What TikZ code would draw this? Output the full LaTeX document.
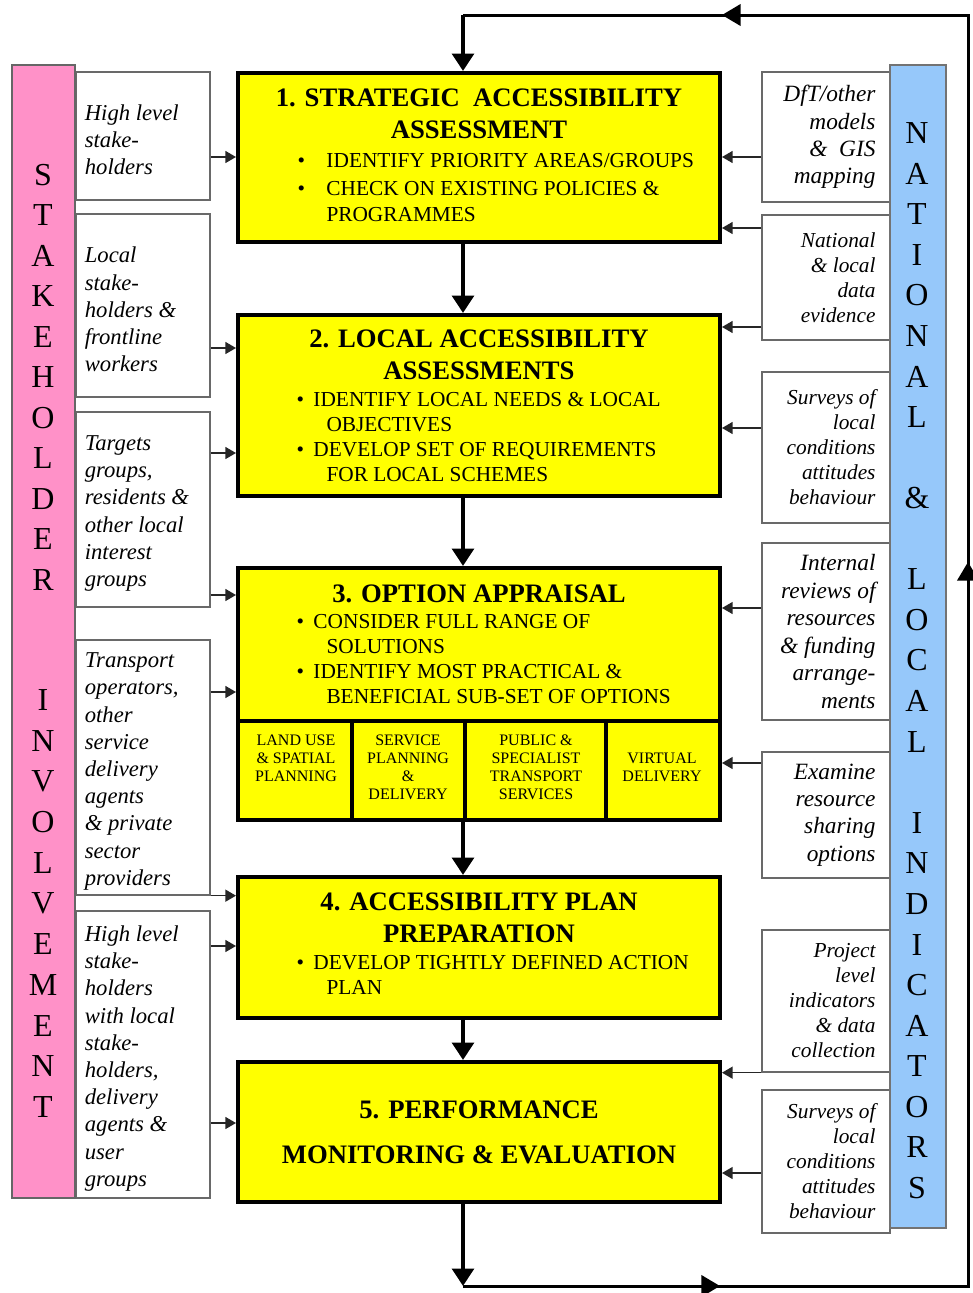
\documentclass[tikz,border=0pt]{standalone}
\usepackage{fontspec}
\setmainfont{Liberation Serif}
\usetikzlibrary{arrows.meta,fit}

\definecolor{boxyellow}{RGB}{255,255,0}
\definecolor{stakepink}{RGB}{255,145,200}
\definecolor{indblue}{RGB}{150,200,250}
\definecolor{sidegray}{RGB}{105,105,105}

\newcommand{\itembul}[1]{\makebox[#1][l]{\textbullet}}

\tikzset{every picture/.style={line width=0.75pt}}
\tikzset{
  mainbox/.style={draw=black, line width=3pt, fill=boxyellow, inner sep=0pt},
  sidebox/.style={draw=sidegray, line width=1pt, fill=white, inner sep=0pt},
  pinkbar/.style={draw=black!60, line width=1pt, fill=stakepink, inner sep=0pt},
  bluebar/.style={draw=black!55, line width=1pt, fill=indblue, inner sep=0pt},
  titletext/.style={font=\fontsize{20}{24}\selectfont\bfseries, align=center, inner sep=0pt},
  itemtext/.style={font=\fontsize{16}{18.75}\selectfont, align=left, inner sep=0pt, anchor=west},
  optiontext/.style={font=\fontsize{12}{13.5}\selectfont, align=center, inner sep=0pt},
  lefttext/.style={font=\fontsize{17}{20.4}\selectfont\itshape, align=left, anchor=west, inner sep=0pt, xshift=6.75pt, yshift=-3pt},
  righttext/.style={font=\fontsize{17.5}{20.6}\selectfont\itshape, align=right, anchor=east, inner sep=0pt, xshift=-11pt},
  rightsmall/.style={righttext, font=\fontsize{16}{18.75}\selectfont\itshape},
  bartext/.style={font=\fontsize{24}{24}\selectfont, inner sep=0pt},
  mainarr/.style={line width=3.5pt, -{Triangle[width=16pt,length=13pt]}},
  loopline/.style={line width=2.25pt},
  looparr/.style={line width=2.25pt, -{Triangle[width=16pt,length=14pt]}},
  sidearr/.style={line width=1.1pt, draw=black!85, -{Triangle[width=9pt,length=8pt]}},
}

\begin{document}
\begin{tikzpicture}[x=0.75pt,y=0.75pt,yscale=-1,xscale=1]
\useasboundingbox (0,0) rectangle (973,1293);

% Main boxes
\node[mainbox, fit={(238,73) (720,242)}] (b1) {};
\node[mainbox, fit={(238,315) (720,496)}] (b2) {};
\node[mainbox, fit={(238,568) (720,820)}] (b3) {};
\node[mainbox, fit={(238,721) (352,820)}] (opt1) {};
\node[mainbox, fit={(352,721) (465,820)}] (opt2) {};
\node[mainbox, fit={(465,721) (606,820)}] (opt3) {};
\node[mainbox, fit={(606,721) (720,820)}] (opt4) {};
\node[mainbox, fit={(238,877) (720,1018)}] (b4) {};
\node[mainbox, fit={(238,1062) (720,1202)}] (b5) {};

% Text Node
\node[titletext] (t1) at (479,114) {1. STRATEGIC\ \ ACCESSIBILITY\\ASSESSMENT};
\node[itemtext, font=\fontsize{16}{19.5}\selectfont] (i11) at (297,161) {\itembul{21.75pt}IDENTIFY PRIORITY AREAS/GROUPS};
\node[itemtext, font=\fontsize{16}{19.5}\selectfont] (i12) at (297,202) {\itembul{21.75pt}CHECK ON EXISTING POLICIES \&\\\hspace*{21.75pt}PROGRAMMES};

\node[titletext] (t2) at (479,355) {2. LOCAL ACCESSIBILITY\\ASSESSMENTS};
\node[itemtext] (i21) at (296,412.5) {\itembul{12.75pt}IDENTIFY LOCAL NEEDS \& LOCAL\\\hspace*{22.5pt}OBJECTIVES};
\node[itemtext] (i22) at (296,462.5) {\itembul{12.75pt}DEVELOP SET OF REQUIREMENTS\\\hspace*{22.5pt}FOR LOCAL SCHEMES};

\node[titletext] (t3) at (479,594) {3. OPTION APPRAISAL};
\node[itemtext] (i31) at (296,634.5) {\itembul{12.75pt}CONSIDER FULL RANGE OF\\\hspace*{22.5pt}SOLUTIONS};
\node[itemtext] (i32) at (296,684.5) {\itembul{12.75pt}IDENTIFY MOST PRACTICAL \&\\\hspace*{22.5pt}BENEFICIAL SUB-SET OF OPTIONS};
\node[optiontext] (o1) at (296,758) {LAND USE\\\& SPATIAL\\PLANNING};
\node[optiontext] (o2) at (408,767) {SERVICE\\PLANNING\\\&\\DELIVERY};
\node[optiontext] (o3) at (536,767) {PUBLIC \&\\SPECIALIST\\TRANSPORT\\SERVICES};
\node[optiontext] (o4) at (662,767) {VIRTUAL\\DELIVERY};

\node[titletext] (t4) at (479,918) {4. ACCESSIBILITY PLAN\\PREPARATION};
\node[itemtext] (i41) at (296,974.5) {\itembul{12.75pt}DEVELOP TIGHTLY DEFINED ACTION\\\hspace*{22.5pt}PLAN};

\node[titletext] (t5) at (479,1132.5) {5. PERFORMANCE\\[9.75pt]MONITORING \& EVALUATION};

% Left boxes
\node[sidebox, fit={(76,72) (210,200)}] (l1) {};
\node[sidebox, fit={(76,214) (210,397)}] (l2) {};
\node[sidebox, fit={(76,412) (210,607)}] (l3) {};
\node[sidebox, fit={(76,640) (210,895)}] (l4) {};
\node[sidebox, fit={(76,911) (210,1198)}] (l5) {};
\node[lefttext] (lt1) at (l1.west) {High level\\stake-\\holders};
\node[lefttext] (lt2) at (l2.west) {Local\\stake-\\holders \&\\frontline\\workers};
\node[lefttext] (lt3) at (l3.west) {Targets\\groups,\\residents \&\\other local\\interest\\groups};
\node[lefttext] (lt4) at (l4.west) {Transport\\operators,\\other\\service\\delivery\\agents\\\& private\\sector\\providers};
\node[lefttext] (lt5) at (l5.west) {High level\\stake-\\holders\\with local\\stake-\\holders,\\delivery\\agents \&\\user\\groups};

% Right boxes
\node[sidebox, fit={(762,72) (890,202)}] (r1) {};
\node[sidebox, fit={(762,215) (890,340)}] (r2) {};
\node[sidebox, fit={(762,372) (890,523)}] (r3) {};
\node[sidebox, fit={(762,543) (890,720)}] (r4) {};
\node[sidebox, fit={(762,752) (890,878)}] (r5) {};
\node[sidebox, fit={(762,930) (890,1072)}] (r6) {};
\node[sidebox, fit={(762,1090) (890,1233)}] (r7) {};
\node[righttext] (rt1) at (r1.east) {DfT/other\\models\\\&\ \ GIS\\mapping};
\node[rightsmall] (rt2) at (r2.east) {National\\\& local\\data\\evidence};
\node[rightsmall] (rt3) at (r3.east) {Surveys of\\local\\conditions\\attitudes\\behaviour};
\node[righttext] (rt4) at (r4.east) {Internal\\reviews of\\resources\\\& funding\\arrange-\\ments};
\node[righttext] (rt5) at (r5.east) {Examine\\resource\\sharing\\options};
\node[rightsmall] (rt6) at (r6.east) {Project\\level\\indicators\\\& data\\collection};
\node[rightsmall] (rt7) at (r7.east) {Surveys of\\local\\conditions\\attitudes\\behaviour};

% Side bars
\node[pinkbar, fit={(12,65) (75,1198)}] (stake) {};
\node[bluebar, fit={(890,65) (946,1228)}] (ind) {};
\foreach \ch [count=\i from 0] in {S,T,A,K,E,H,O,L,D,E,R}
  \node[bartext] (sa\i) at (43,{175+40.5*\i}) {\ch};
\foreach \ch [count=\i from 0] in {I,N,V,O,L,V,E,M,E,N,T}
  \node[bartext] (sb\i) at (43,{700+40.7*\i}) {\ch};
\foreach \ch [count=\i from 0] in {N,A,T,I,O,N,A,L,{},\&,{},L,O,C,A,L,{},I,N,D,I,C,A,T,O,R,S}
  \node[bartext] (na\i) at (917,{133+40.58*\i}) {\ch};

% Arrows from left
\draw[sidearr] (l1.east |- 0,157) -- (b1.west |- 0,157);
\draw[sidearr] (l2.east |- 0,348) -- (b2.west |- 0,348);
\draw[sidearr] (l3.east |- 0,453) -- (b2.west |- 0,453);
\draw[sidearr] (l3.east |- 0,595) -- (b3.west |- 0,595);
\draw[sidearr] (l4.east |- 0,692) -- (b3.west |- 0,692);
\draw[sidearr] (l4.south east) -- (b4.west |- l4.south);
\draw[sidearr] (l5.east |- 0,946) -- (b4.west |- 0,946);
\draw[sidearr] (l5.east |- 0,1123) -- (b5.west |- 0,1123);

% Arrows from right
\draw[sidearr] (r1.west |- 0,157) -- (b1.east |- 0,157);
\draw[sidearr] (r2.west |- 0,228) -- (b1.east |- 0,228);
\draw[sidearr] (r2.west |- 0,327) -- (b2.east |- 0,327);
\draw[sidearr] (r3.west |- 0,428) -- (b2.east |- 0,428);
\draw[sidearr] (r4.west |- 0,608) -- (b3.east |- 0,608);
\draw[sidearr] (r5.west |- 0,763) -- (opt4.east |- 0,763);
\draw[sidearr] (r6.south west) -- (b5.east |- r6.south);
\draw[sidearr] (r7.west |- 0,1173) -- (b5.east |- 0,1173);

% Main flow
\coordinate (spine) at (463,0);
\coordinate (bl) at (463,1286);
\coordinate (br) at (968,1286);
\coordinate (tr) at (968,15);
\coordinate (tl) at (463,15);
\draw[mainarr] (b1.south -| spine) -- (b2.north -| spine);
\draw[mainarr] (b2.south -| spine) -- (b3.north -| spine);
\draw[mainarr] (b3.south -| spine) -- (b4.north -| spine);
\draw[mainarr] (b4.south -| spine) -- (b5.north -| spine);
\draw[mainarr] (b5.south -| spine) -- (bl);
\draw[loopline] (bl) -- (br) -- (tr) -- (tl);
\draw[looparr] (bl) -- (720,1286);
\draw[looparr] (br) -- (968,562);
\draw[looparr] (tr) -- (722,15);
\draw[mainarr] (tl) -- (b1.north -| spine);
\end{tikzpicture}
\end{document}
